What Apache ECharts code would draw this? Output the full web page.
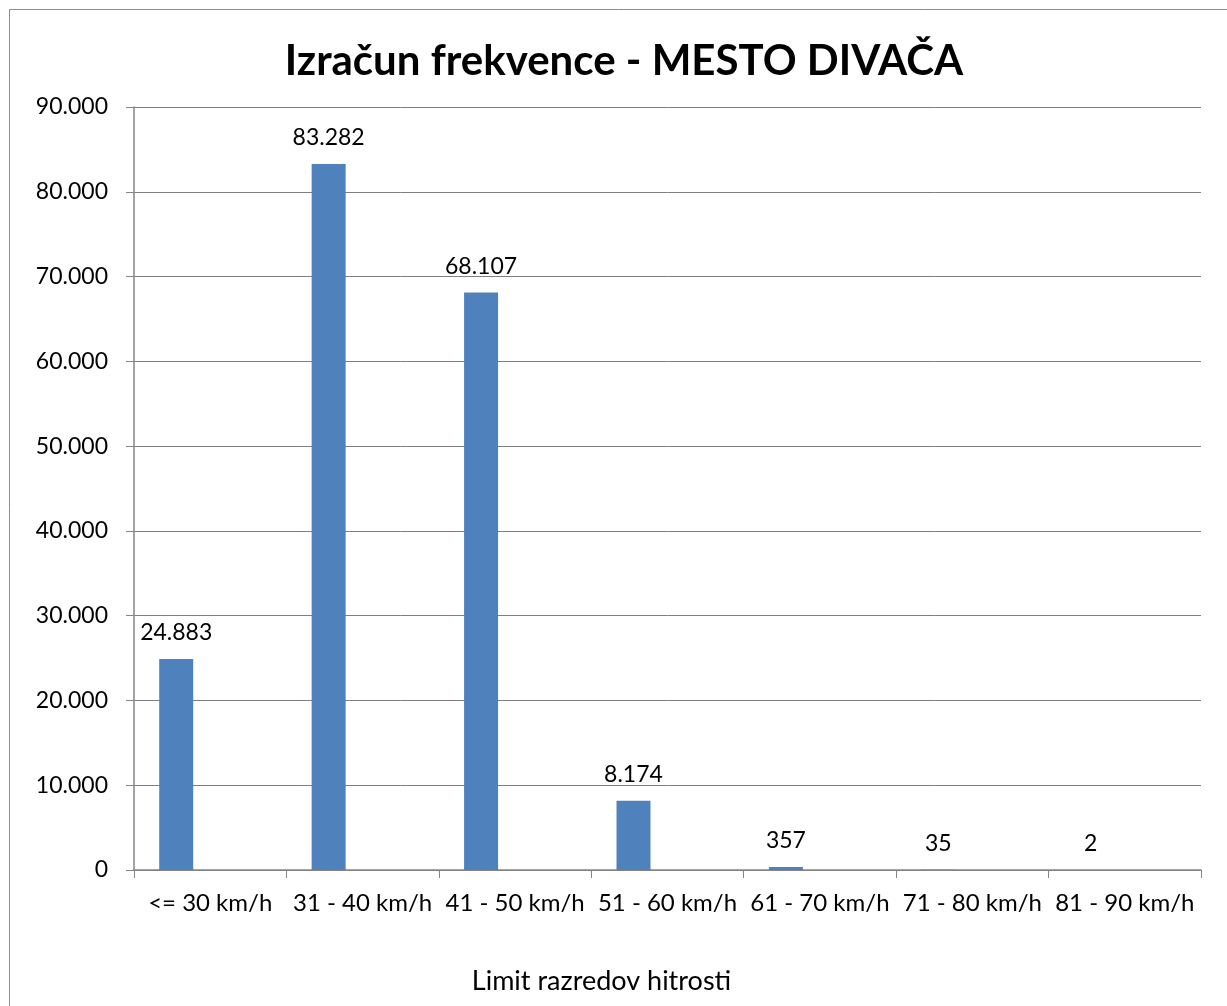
<!DOCTYPE html>
<html>
<head>
<meta charset="utf-8">
<script src="https://cdn.jsdelivr.net/npm/echarts@6/dist/echarts.min.js"></script>
<style>
  html, body { margin: 0; padding: 0; background: #fff; }
  #chart { width: 1227px; height: 1006px; }
</style>
</head>
<body>
<div id="chart"></div>
<script>
var categories = ['<= 30 km/h', '31 - 40 km/h', '41 - 50 km/h', '51 - 60 km/h', '61 - 70 km/h', '71 - 80 km/h', '81 - 90 km/h'];
var frequency = [24883, 83282, 68107, 8174, 357, 35, 2];
// empty second series, only there so bars sit left of the category centre
var emptySeries = ['-', '-', '-', '-', '-', '-', '-'];

var font = 'Lato, "Open Sans", sans-serif';

function dots(v) {
  return String(v).replace(/\B(?=(\d{3})+(?!\d))/g, '.');
}

var chart = echarts.init(document.getElementById('chart'));

var option = {
  backgroundColor: '#fff',
  animation: false,
  title: {
    text: 'Izračun frekvence - MESTO DIVAČA',
    left: 619,
    textAlign: 'center',
    top: 35,
    textStyle: { fontFamily: font, fontWeight: 'bold', fontSize: 42, color: '#000' }
  },
  graphic: [{
    type: 'rect',
    shape: { x: 9.5, y: 9.5, width: 1400, height: 1200 },
    style: { fill: null, stroke: '#8c8c8c', lineWidth: 1 },
    silent: true
  }],
  grid: { left: 134, right: 26, top: 107, bottom: 136, outerBoundsMode: 'none' },
  xAxis: {
    type: 'category',
    data: categories,
    name: 'Limit razredov hitrosti',
    nameLocation: 'middle',
    nameGap: 98,
    nameTextStyle: { fontFamily: font, fontSize: 27, color: '#000', padding: [0, 132, 0, 0] },
    axisLine: { lineStyle: { color: '#868686', width: 1.5 } },
    axisTick: { show: true, length: 8, lineStyle: { color: '#868686' } },
    axisLabel: { fontFamily: font, fontSize: 24, color: '#000', margin: 21, interval: 0 }
  },
  yAxis: {
    type: 'value',
    min: 0,
    max: 90000,
    interval: 10000,
    axisLine: { show: true, lineStyle: { color: '#868686', width: 1.5 } },
    axisTick: { show: true, length: 8, lineStyle: { color: '#868686' } },
    axisLabel: {
      fontFamily: font, fontSize: 23, color: '#000', margin: 26,
      formatter: function (v) { return dots(v); }
    },
    splitLine: { lineStyle: { color: '#7f7f7f', width: 1 } }
  },
  series: [
    {
      name: 'Frekvenca',
      type: 'bar',
      data: frequency,
      barWidth: 34,
      barGap: '100%',
      itemStyle: { color: '#4f81bd' },
      label: {
        show: true,
        position: 'top',
        distance: 15,
        fontFamily: font,
        fontSize: 23,
        color: '#000',
        formatter: function (p) { return dots(p.value); }
      }
    },
    {
      name: 'prazno',
      type: 'bar',
      data: emptySeries,
      barWidth: 34
    }
  ]
};

chart.setOption(option);
</script>
</body>
</html>
